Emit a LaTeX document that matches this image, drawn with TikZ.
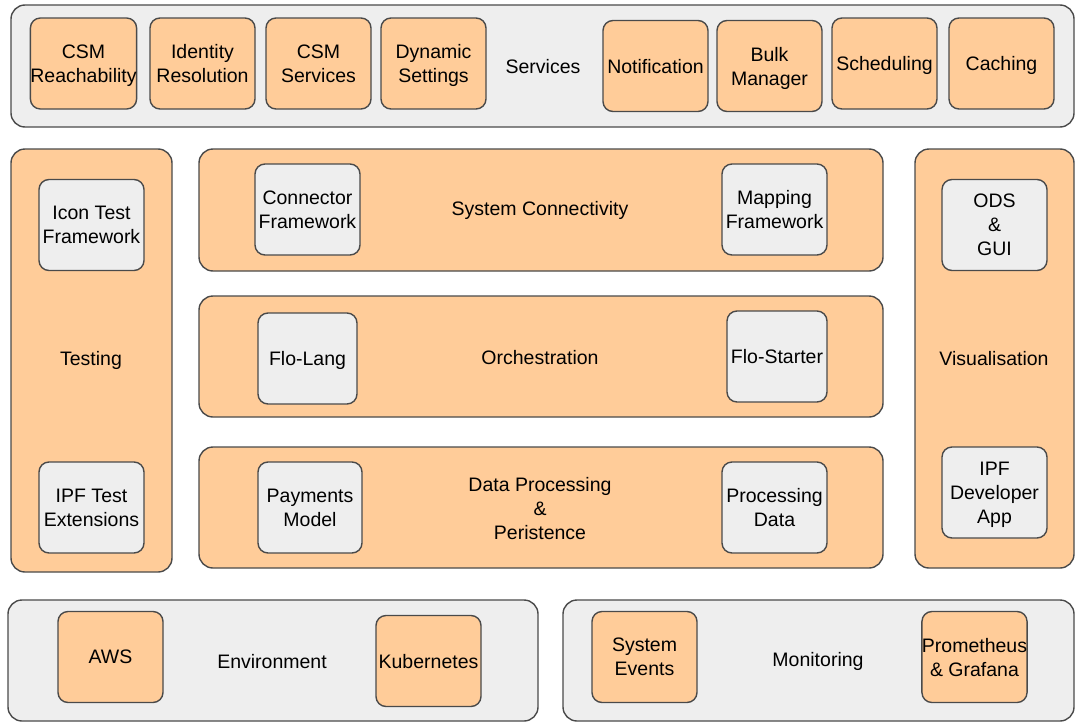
\documentclass[tikz,border=0pt]{standalone}
\usepackage{fontspec}
\setmainfont{Liberation Sans}
\definecolor{orfill}{HTML}{FFCC99}
\definecolor{grfill}{HTML}{EEEEEE}
\definecolor{edge}{HTML}{4A4A4A}
\begin{document}
\begin{tikzpicture}[x=1pt,y=-1pt,
  base/.style={draw=edge, line width=1.4pt, align=center, inner sep=0pt,
    font=\fontsize{19.5}{24}\selectfont, text=black},
  outerg/.style={base, fill=grfill, rounded corners=14pt},
  outero/.style={base, fill=orfill, rounded corners=14pt},
  inno/.style={base, fill=orfill, rounded corners=10pt, minimum width=105pt, minimum height=91pt, text depth=-2pt},
  inng/.style={base, fill=grfill, rounded corners=10pt, minimum width=105pt, minimum height=91pt, text depth=-2pt},
  lbl/.style={align=center, inner sep=0pt, font=\fontsize{19.5}{24}\selectfont, yshift=-1.5pt}]
\useasboundingbox (0,0) rectangle (1076,728);
% Services
\node[outerg, minimum width=1063pt, minimum height=122pt] (services) at (542.5,66) {};
\node[lbl] (serviceslbl) at (543,65) {Services};
\node[inno] (csmr) at (83.5,63.5) {CSM\\Reachability};
\node[inno] (idres) at (202.5,63.5) {Identity\\Resolution};
\node[inno] (csms) at (318.5,63.5) {CSM\\Services};
\node[inno] (dyn) at (433.5,63.5) {Dynamic\\Settings};
\node[inno] (notif) at (655.5,66) {Notification};
\node[inno] (bulk) at (769.5,66) {Bulk\\Manager};
\node[inno] (sched) at (884.5,63.5) {Scheduling};
\node[inno] (cach) at (1001.5,63.5) {Caching};
% Testing
\node[outero, minimum width=161pt, minimum height=423pt] (testing) at (91.5,360.5) {};
\node[lbl] (testinglbl) at (91,359) {Testing};
\node[inng] (icon) at (91.5,225) {Icon Test\\Framework};
\node[inng] (ipftest) at (91.5,507.5) {IPF Test\\Extensions};
% System Connectivity
\node[outero, minimum width=684pt, minimum height=122pt] (syscon) at (541,210) {};
\node[lbl] (sysconlbl) at (540,209) {System Connectivity};
\node[inng] (confw) at (307.5,209.5) {Connector\\Framework};
\node[inng] (mapfw) at (774.5,209.5) {Mapping\\Framework};
% Orchestration
\node[outero, minimum width=684pt, minimum height=121pt] (orch) at (541,356.5) {};
\node[lbl] (orchlbl) at (540,356) {Orchestration};
\node[inng, minimum width=99pt] (flolang) at (307.5,358.5) {Flo-Lang};
\node[inng, minimum width=100pt] (flostart) at (777,356.5) {Flo-Starter};
% Data processing
\node[outero, minimum width=684pt, minimum height=121pt] (data) at (541,507.5) {};
\node[lbl] (datalbl) at (540,507) {Data Processing\\\&\\Peristence};
\node[inng, minimum width=104pt] (paym) at (310,507.5) {Payments\\Model};
\node[inng] (procd) at (774.5,507.5) {Processing\\Data};
% Visualisation
\node[outero, minimum width=159pt, minimum height=419pt] (vis) at (994.5,358.5) {};
\node[lbl] (vislbl) at (994,357) {Visualisation};
\node[inng] (ods) at (994.5,225) {ODS\\\&\\GUI};
\node[inng] (ipfdev) at (994.5,492.5) {IPF\\Developer\\App};
% Environment
\node[outerg, minimum width=530pt, minimum height=121pt] (env) at (273,660.5) {};
\node[lbl] (envlbl) at (272,660) {Environment};
\node[inno] (aws) at (110.5,657) {AWS};
\node[inno] (kube) at (428.5,661) {Kubernetes};
% Monitoring
\node[outerg, minimum width=511pt, minimum height=121pt] (mon) at (818.5,660.5) {};
\node[lbl] (monlbl) at (818,660) {Monitoring};
\node[inno] (sysev) at (644.5,657) {System\\Events};
\node[inno] (prom) at (974.5,657) {Prometheus\\\& Grafana};
\end{tikzpicture}
\end{document}
